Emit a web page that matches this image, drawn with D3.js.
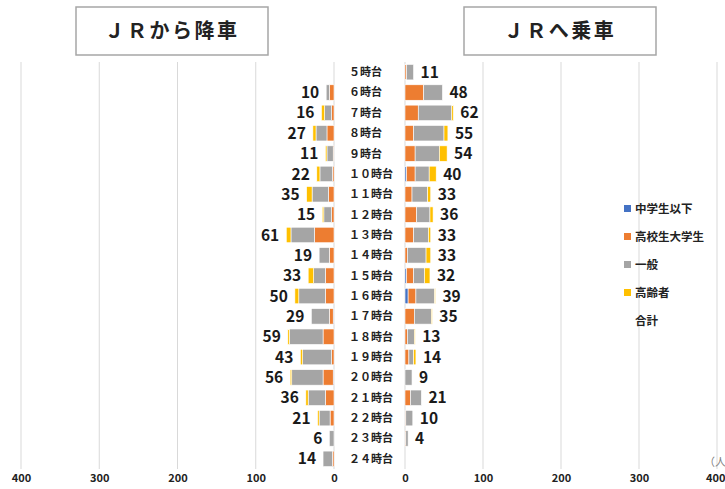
<!DOCTYPE html>
<html><head><meta charset="utf-8">
<script src="https://cdn.jsdelivr.net/npm/d3@7"></script>
<style>
html,body{margin:0;padding:0;background:#fff;}
svg{display:block;font-family:"Noto Sans CJK JP","Noto Sans",sans-serif;}
</style></head>
<body><svg id="c" width="725" height="489"></svg>
<script>
const hours = ["５時台","６時台","７時台","８時台","９時台","１０時台","１１時台","１２時台","１３時台","１４時台","１５時台","１６時台","１７時台","１８時台","１９時台","２０時台","２１時台","２２時台","２３時台","２４時台"];
const seriesNames = ["中学生以下","高校生大学生","一般","高齢者"];
const legendNames = ["中学生以下","高校生大学生","一般","高齢者","合計"];
const colors = ["#4472C4","#ED7D31","#A5A5A5","#FFC000"];
const tickValues = [0,100,200,300,400];

// JRから降車
const offJunior  = [0,0,0,0,0,0,0,0,0,0,0,0,1,0,0,1,0,0,0,0];
const offStudent = [0,6,3,9,1,2,7,3,25,6,11,11,5,14,3,13,11,5,0,2];
const offGeneral = [0,4,9,14,8,16,21,10,30,13,15,34,23,43,37,40,22,14,6,12];
const offSenior  = [0,0,4,4,2,4,7,2,6,0,7,5,0,2,3,2,3,2,0,0];
const offTotal   = [null,10,16,27,11,22,35,15,61,19,33,50,29,59,43,56,36,21,6,14];

// JRへ乗車
const onJunior  = [0,0,0,0,0,2,0,0,0,0,2,4,0,0,0,0,0,0,0,0];
const onStudent = [2,24,17,11,13,11,9,15,11,3,9,10,12,3,5,0,7,1,1,0];
const onGeneral = [9,24,43,39,31,18,20,17,19,24,14,24,22,9,6,9,14,9,3,0];
const onSenior  = [0,0,2,5,10,9,4,4,3,6,7,1,1,1,3,0,0,0,0,0];
const onTotal   = [11,48,62,55,54,40,33,36,33,33,32,39,35,13,14,9,21,10,4,null];

const svg = d3.select("#c");
const xL = d3.scaleLinear().domain([0,400]).range([334,21]);
const xR = d3.scaleLinear().domain([0,400]).range([405,717]);
const plotTop = 62, plotBottom = 469;
const y = d3.scaleBand().domain(hours).range([plotTop,plotBottom]).paddingInner(0.24).paddingOuter(0.12);

// gridlines
[xL, xR].forEach(x => {
  svg.append("g").selectAll("line").data(tickValues).join("line")
    .attr("x1", d => x(d)).attr("x2", d => x(d))
    .attr("y1", plotTop).attr("y2", plotBottom)
    .attr("stroke", "#d9d9d9").attr("stroke-width", 1);
});

function makeRows(j, s, g, o) {
  return hours.map((h, i) => ({hour: h, "中学生以下": j[i], "高校生大学生": s[i], "一般": g[i], "高齢者": o[i]}));
}
const stack = d3.stack().keys(seriesNames);

function drawSide(rows, totals, x, side) {
  const st = stack(rows);
  const g = svg.append("g");
  st.forEach((layer, k) => {
    g.append("g").attr("fill", colors[k]).selectAll("rect").data(layer.filter(d => d[1] - d[0] > 0)).join("rect")
      .attr("x", d => Math.min(x(d[0]), x(d[1])))
      .attr("width", d => Math.abs(x(d[1]) - x(d[0])))
      .attr("y", d => y(d.data.hour))
      .attr("height", y.bandwidth())
      .attr("stroke", "#fff").attr("stroke-width", 0.6);
  });
  g.append("g").selectAll("text").data(hours.map((h,i)=>({h, t: totals[i]})).filter(d => d.t != null)).join("text")
    .attr("x", d => side === "L" ? x(d.t) - 7 : x(d.t) + 7)
    .attr("y", d => y(d.h) + y.bandwidth()/2)
    .attr("dy", "0.36em")
    .attr("text-anchor", side === "L" ? "end" : "start")
    .attr("font-size", 15.5).attr("font-weight", "bold").attr("fill", "#1a1a1a")
    .text(d => d.t);
}
drawSide(makeRows(offJunior, offStudent, offGeneral, offSenior), offTotal, xL, "L");
drawSide(makeRows(onJunior, onStudent, onGeneral, onSenior), onTotal, xR, "R");

// category labels
svg.append("g").selectAll("text").data(hours).join("text")
  .attr("x", 349).attr("y", d => y(d) + y.bandwidth()/2).attr("dy", "0.36em")
  .attr("font-size", 11).attr("font-weight", "bold").attr("fill", "#222")
  .text(d => d);

// bottom axes
[xL, xR].forEach((x, si) => {
  const ax = svg.append("g").attr("transform", `translate(0,${plotBottom + 2})`)
    .call(d3.axisBottom(x).tickValues(tickValues).tickSize(0).tickPadding(3));
  ax.select(".domain").remove();
  ax.selectAll("text").attr("font-size", 11).attr("font-weight", "bold").attr("fill", "#222")
    .attr("font-family", "'Noto Sans CJK JP', sans-serif");
  if (si === 1) ax.selectAll("text").filter(d => d === 400).attr("text-anchor", "end").attr("x", 8);
});

// unit
svg.append("text").attr("x", 704).attr("y", 466).attr("font-size", 11).attr("fill", "#7f7f7f").text("（人）");

// titles
function title(cx, label) {
  svg.append("rect").attr("x", cx - 96).attr("y", 7).attr("width", 192).attr("height", 48)
    .attr("fill", "#fff").attr("stroke", "#a6a6a6").attr("stroke-width", 1.5);
  svg.append("text").attr("x", cx).attr("y", 31).attr("dy", "0.36em").attr("text-anchor", "middle")
    .attr("font-size", 20).attr("font-weight", "bold").attr("fill", "#222").attr("letter-spacing", 2.5)
    .text(label);
}
title(172, "ＪＲから降車");
title(560, "ＪＲへ乗車");

// legend
const lg = svg.append("g");
legendNames.forEach((n, i) => {
  const yy = 209 + i * 28;
  if (i < 4) lg.append("rect").attr("x", 624).attr("y", yy - 4).attr("width", 7).attr("height", 7).attr("fill", colors[i]);
  lg.append("text").attr("x", 635).attr("y", yy).attr("dy", "0.36em").attr("font-size", 11.5)
    .attr("font-weight", "bold").attr("fill", "#222").text(n);
});
</script></body></html>
